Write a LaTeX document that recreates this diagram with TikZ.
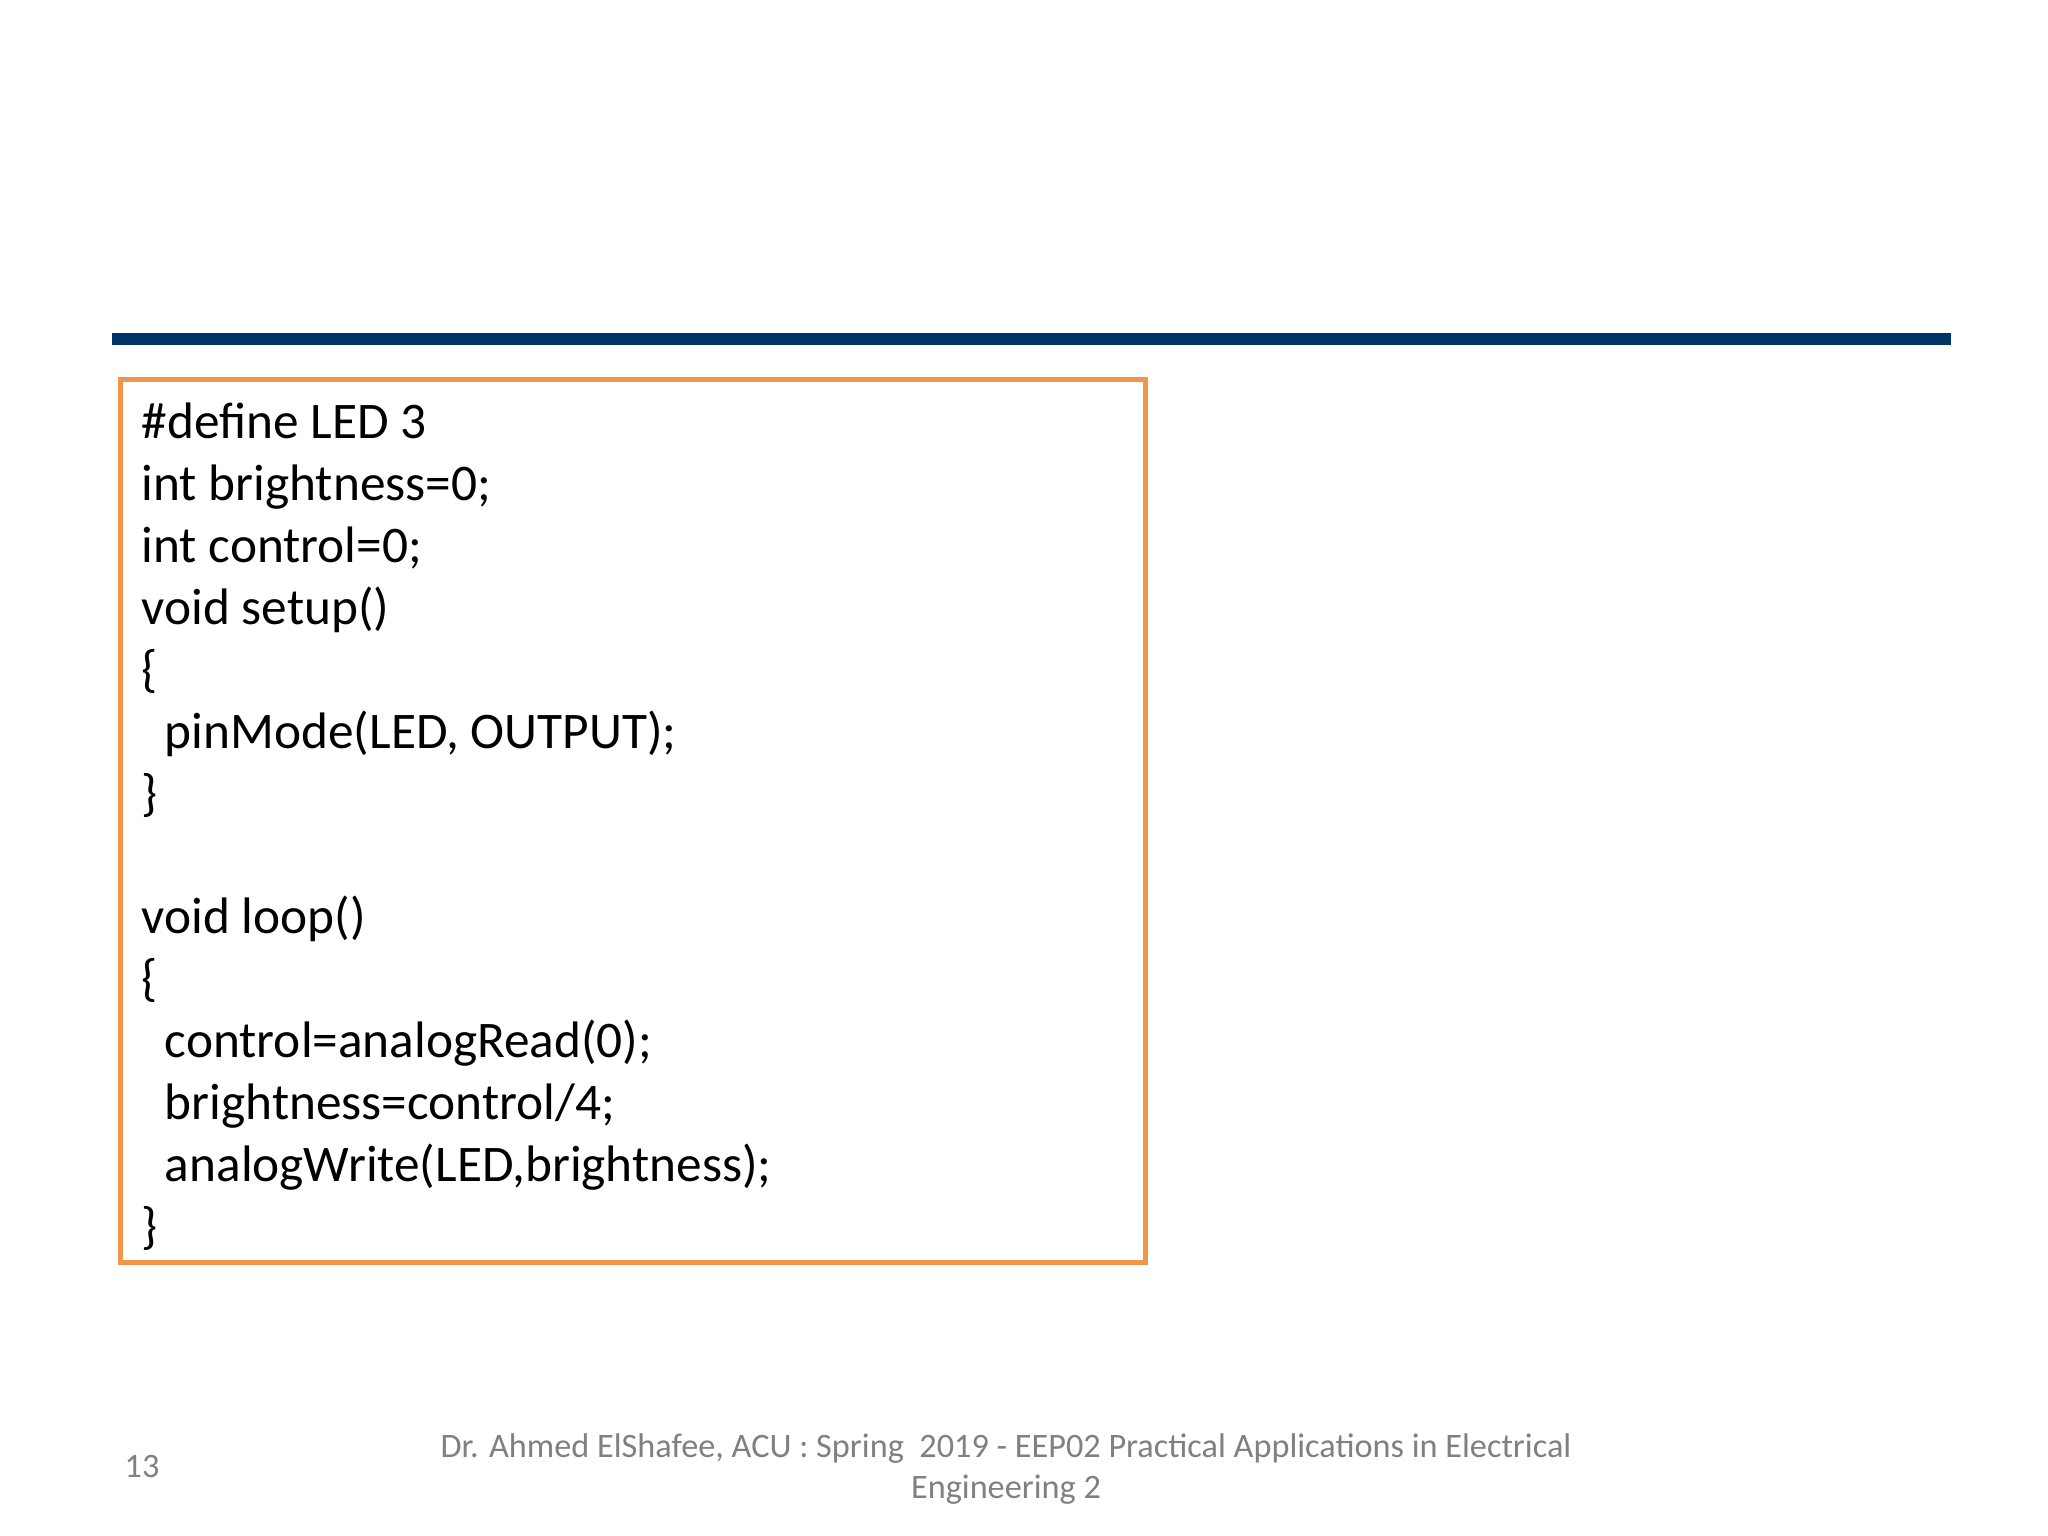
\documentclass[tikz,border=0pt]{standalone}
\usepackage{fontspec}
\setmainfont{Carlito}
\definecolor{barblue}{RGB}{0,51,102}
\definecolor{boxorange}{RGB}{240,150,74}
\definecolor{footgray}{RGB}{128,128,128}
\tikzset{
  codebox/.style={draw=boxorange, line width=0.05cm},
  codetext/.style={anchor=base west, align=left, inner sep=0pt, font=\fontsize{14.6}{17.6}\selectfont},
  foottext/.style={text=footgray, inner sep=0pt, font=\fontsize{9.75}{11.6}\selectfont}
}
\begin{document}
\begin{tikzpicture}
  \useasboundingbox (0,0) rectangle (20.48,-15.36);
  % title bar
  \fill[barblue] (1.123,-3.33) rectangle (19.51,-3.45);
  % code box
  \draw[codebox] (1.202,-3.80) rectangle (11.45,-12.62);
  \node[codetext] (code) at (1.41,-12.43) {\#define LED 3\\
int brightness=0;\\
int control=0;\\
void setup()\\
\{\\
\ \ pinMode(LED, OUTPUT);\\
\}\\
\mbox{}\\
void loop()\\
\{\\
\ \ control=analogRead(0);\\
\ \ brightness=control/4;\\
\ \ analogWrite(LED,brightness);\\
\}};
  % footer
  \node[foottext, anchor=base] (footA) at (10.06,-14.57) {Dr. Ahmed ElShafee, ACU : Spring\ \ 2019 - EEP02 Practical Applications in Electrical};
  \node[foottext, anchor=base] (footB) at (10.06,-14.98) {Engineering 2};
  \node[foottext, anchor=base west] (pagenum) at (1.24,-14.77) {13};
\end{tikzpicture}
\end{document}
